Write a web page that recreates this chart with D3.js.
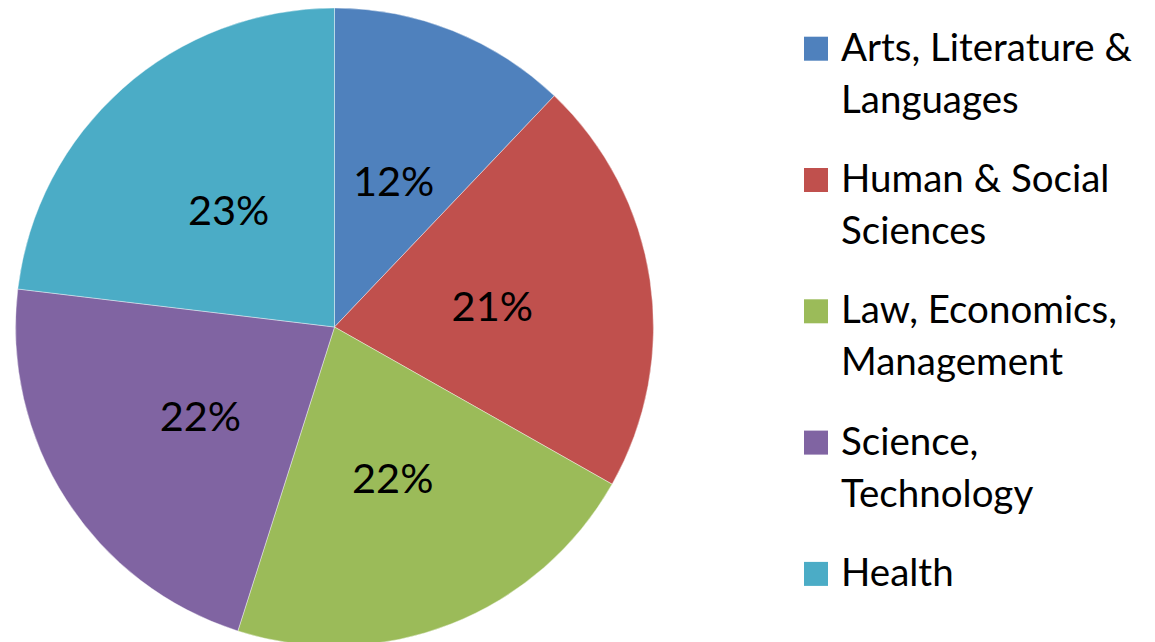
<!DOCTYPE html>
<html>
<head>
<meta charset="utf-8">
<script src="https://cdn.jsdelivr.net/npm/d3@7"></script>
<style>
  body { margin: 0; background: #fff; }
  svg { display: block; }
  text { font-family: Lato, "Open Sans", sans-serif; fill: #000; }
</style>
</head>
<body>
<div id="chart"></div>
<script>
// shares (labels show rounded values)
const categories = ["Arts, Literature & Languages", "Human & Social Sciences", "Law, Economics, Management", "Science, Technology", "Health"];
const legendLines = [["Arts, Literature &", "Languages"], ["Human & Social", "Sciences"], ["Law, Economics,", "Management"], ["Science,", "Technology"], ["Health"]];
const shares = [12.1, 21.1, 21.7, 22.0, 23.1];
const labels = ["12%", "21%", "22%", "22%", "23%"];
const colors = ["#4F81BD", "#C0504D", "#9BBB59", "#8064A2", "#4BACC6"];

const width = 1155, height = 642;
const radius = 319, cx = 334.5, cy = 327;

const svg = d3.select("#chart").append("svg")
    .attr("width", width)
    .attr("height", height);

const color = d3.scaleOrdinal().domain(categories).range(colors);

const pie = d3.pie().sort(null).value(d => d.value);
const arcs = pie(categories.map((c, i) => ({ name: c, value: shares[i], label: labels[i] })));

const arc = d3.arc().innerRadius(0).outerRadius(radius);
const labelArc = d3.arc().innerRadius(radius * 0.5).outerRadius(radius * 0.5);

const g = svg.append("g").attr("transform", `translate(${cx},${cy})`);

g.selectAll("path")
    .data(arcs)
    .join("path")
    .attr("d", arc)
    .attr("fill", d => color(d.data.name))
    .attr("stroke", "#fff")
    .attr("stroke-opacity", 0.5)
    .attr("stroke-width", 0.8);

g.selectAll("text.pct")
    .data(arcs)
    .join("text")
    .attr("class", "pct")
    .attr("transform", d => `translate(${labelArc.centroid(d)})`)
    .attr("text-anchor", "middle")
    .attr("dy", "0.42em")
    .style("font-size", "41.5px")
    .text(d => d.data.label);

// legend
const legend = svg.append("g").attr("transform", "translate(804,0)");
const item = legend.selectAll("g")
    .data(categories)
    .join("g")
    .attr("transform", (d, i) => `translate(0,${60.7 + i * 131.3})`);

item.append("rect")
    .attr("x", 0)
    .attr("y", -24)
    .attr("width", 24)
    .attr("height", 24)
    .attr("fill", d => color(d));

item.append("text")
    .attr("x", 37)
    .style("font-size", "38.5px")
    .selectAll("tspan")
    .data((d, i) => legendLines[i])
    .join("tspan")
    .attr("x", 37)
    .attr("y", (d, j) => j * 52)
    .text(d => d);
</script>
</body>
</html>
